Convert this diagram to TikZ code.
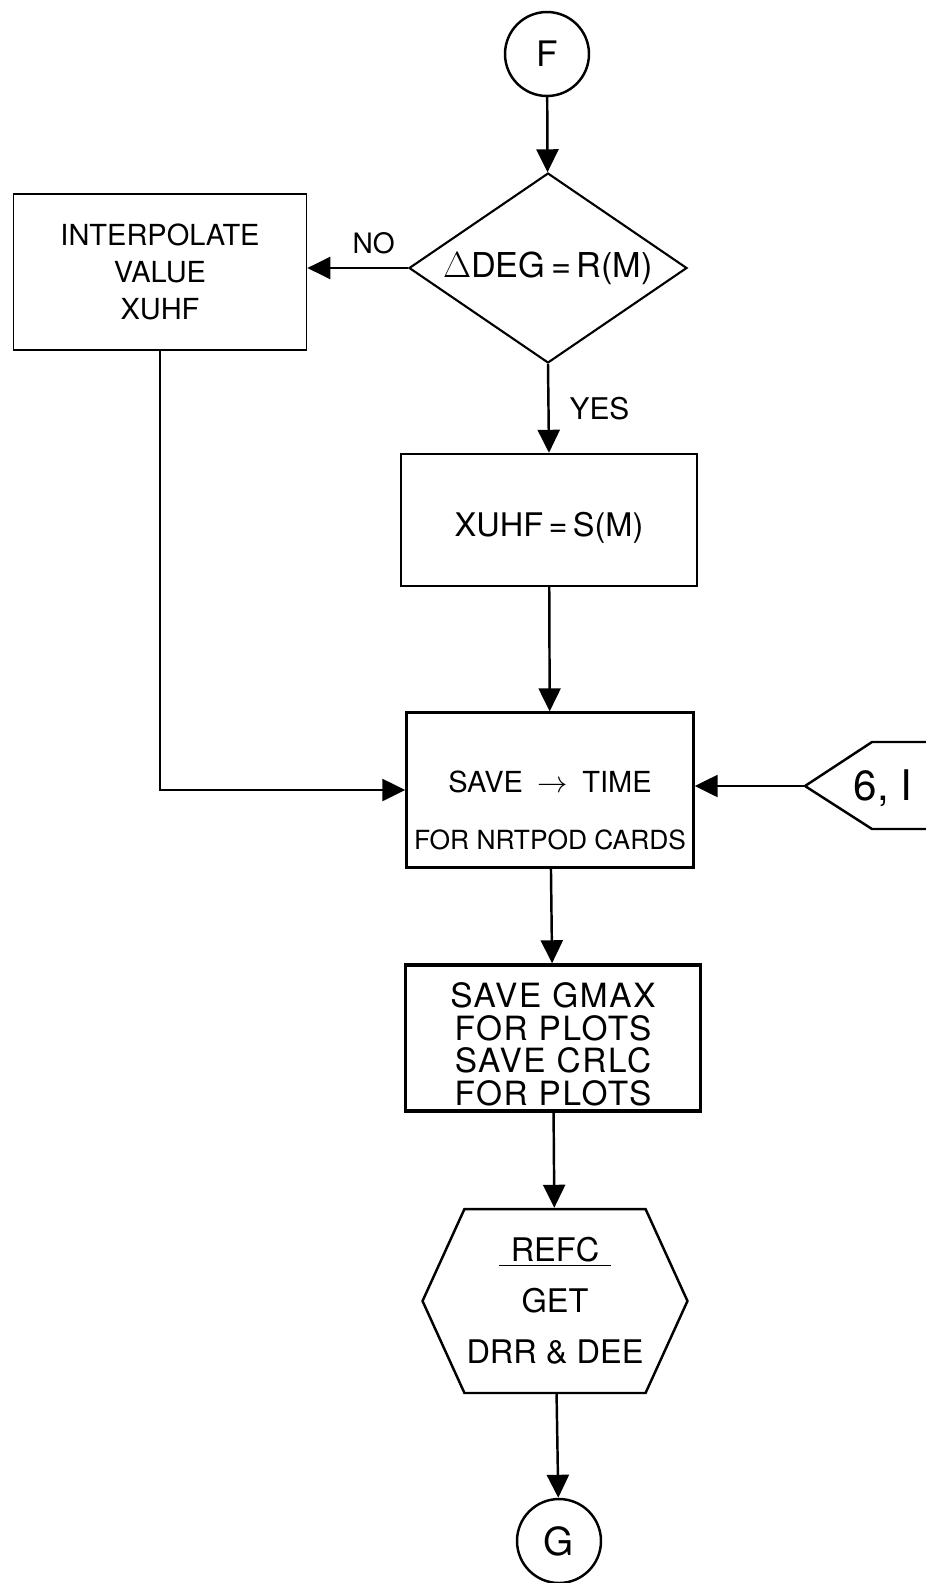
\documentclass[tikz,border=0pt]{standalone}
\usepackage{fontspec}
\setmainfont{TeX Gyre Heros}
\usetikzlibrary{arrows.meta, shapes.geometric, shapes.symbols, positioning}

\tikzset{
  flowline/.style={line width=1.4pt, -{Triangle[length=4.6mm,width=4.4mm]}},
  procbox/.style={draw, line width=1.4pt, align=center, inner sep=0pt},
  connector/.style={draw, circle, line width=1.4pt, minimum size=1.68cm, inner sep=0pt},
  decision/.style={draw, diamond, aspect=1.46, line width=1.2pt, inner sep=0pt},
}

\begin{document}
\begin{tikzpicture}[x=0.02cm, y=-0.02cm]
    \useasboundingbox (0,0) rectangle (926,1583);
    % Connectors and decision
    \node[connector, font=\fontsize{20}{24}\selectfont] (F) at (547,54) {F};
    \node[decision, minimum width=5.56cm, minimum height=3.8cm, font=\fontsize{19.5}{22}\selectfont] (test) at (548,268) {$\Delta$DEG\,=\,R(M)};
    % Process boxes
    \node[procbox, line width=1pt, minimum width=5.86cm, minimum height=3.12cm, font=\fontsize{16.5}{21}\selectfont] (interp) at (160,272) {INTERPOLATE\\VALUE\\XUHF};
    \node[procbox, minimum width=5.92cm, minimum height=2.64cm, font=\fontsize{18.5}{22}\selectfont] (assign) at (549,520) {\rule{0pt}{0.8cm}XUHF\,=\,S(M)};
    \node[procbox, minimum width=5.74cm, minimum height=3.1cm, font=\fontsize{15}{32}\selectfont] (savetime) at (550,790) {\rule{0pt}{1.25cm}{\fontsize{16.5}{32}\selectfont SAVE\enspace$\rightarrow$\enspace TIME}\\FOR NRTPOD CARDS};
    \node[procbox, line width=2pt, minimum width=5.9cm, minimum height=2.92cm, font=\fontsize{19}{18.5}\selectfont\addfontfeature{LetterSpace=5}] (savegmax) at (553,1038) {\rule{0pt}{0.75cm}SAVE GMAX\\FOR PLOTS\\SAVE CRLC\\FOR PLOTS};
    \node[signal, signal to=west and east, signal pointer angle=131, draw, line width=1.4pt, minimum width=5.3cm, minimum height=3.68cm, align=center, inner sep=0pt, font=\fontsize{18.5}{29}\selectfont] (refc) at (555,1301) {\underline{\hspace{0.35em}REFC\hspace{0.35em}}\\GET\\DRR \& DEE};
    \node[connector, font=\fontsize{22}{26}\selectfont] (G) at (559,1541) {G};
    % Off-page connector
    \node[font=\fontsize{24}{28}\selectfont] (connI) at (883,788) {6, I};
    \draw[line width=1.4pt] (970,742) -- (872,742) -- (805,786) coordinate (connItip) -- (872,829) -- (970,829);
    % Flow
    \draw[flowline] (F) -- (test);
    \draw[flowline] (test.west) -- (interp.east |- test.west) node[pos=0.34, above=4pt, font=\fontsize{16}{20}\selectfont] (nolbl) {NO};
    \draw[flowline] (test.south) -- (assign.north) node[midway, right=8pt, font=\fontsize{17}{20}\selectfont] (yeslbl) {YES};
    \draw[flowline] (assign) -- (savetime);
    \draw[flowline] (interp.south) |- (savetime.west);
    \draw[flowline] (connItip) -- (connItip -| savetime.east);
    \draw[flowline] (savetime) -- (savegmax);
    \draw[flowline] (savegmax) -- (refc);
    \draw[flowline] (refc) -- (G);
\end{tikzpicture}
\end{document}
